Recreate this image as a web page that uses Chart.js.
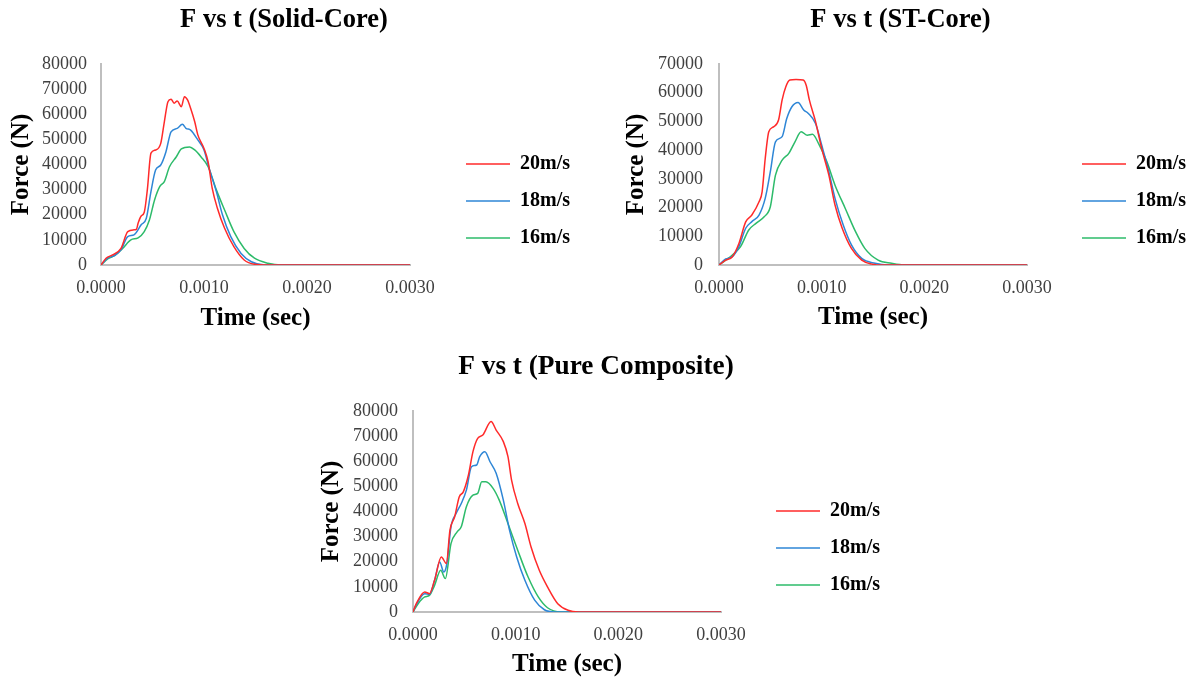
<!DOCTYPE html>
<html>
<head>
<meta charset="utf-8">
<script src="https://cdn.jsdelivr.net/npm/chart.js@4.4.1/dist/chart.umd.min.js"></script>
<style>
html, body { margin: 0; padding: 0; background: #fff; width: 1195px; height: 682px; overflow: hidden; }
canvas { position: absolute; }
</style>
</head>
<body>
<canvas id="solid" width="592" height="402" style="left:-12px; top:0px"></canvas>
<canvas id="stcore" width="591" height="402" style="left:605px; top:0px"></canvas>
<canvas id="pure" width="588" height="406" style="left:302px; top:345px"></canvas>
<script>
// velocidades (leyenda)
const velocidades = ["20m/s", "18m/s", "16m/s"];
const colores = ["#ff2a2a", "#2e86d6", "#2dbb6a"];

// F vs t (Solid-Core): tiempo en s, fuerza en N
const solidTiempo20 = [0, 0.000049, 0.000113, 0.000194, 0.00026, 0.00032, 0.000345, 0.00036, 0.00039, 0.00042, 0.00045, 0.000485, 0.00053, 0.00058, 0.000615, 0.00065, 0.00068, 0.00071, 0.00074, 0.00078, 0.00081, 0.00084, 0.00087, 0.00091, 0.00094, 0.001, 0.00104, 0.00108, 0.00113, 0.0012, 0.00129, 0.00139, 0.00149, 0.00162, 0.003];
const solidFuerza20 = [0, 2700, 4000, 6600, 13300, 14000, 14300, 16600, 19500, 21000, 30000, 44500, 45800, 48400, 57000, 65000, 66000, 64400, 65300, 63000, 67000, 65700, 62400, 57000, 51800, 46400, 41000, 30500, 22600, 14600, 7300, 2000, 300, 0, 0];
const solidTiempo18 = [0, 0.000065, 0.00013, 0.000194, 0.00026, 0.00032, 0.00039, 0.00044, 0.000485, 0.00053, 0.00058, 0.00063, 0.00068, 0.00074, 0.00079, 0.000825, 0.00087, 0.00094, 0.001, 0.00105, 0.00112, 0.00118, 0.00126, 0.00136, 0.00146, 0.00159, 0.003];
const solidFuerza18 = [0, 2700, 3700, 6000, 11300, 12000, 16000, 18600, 29200, 37800, 39800, 45000, 53000, 54400, 56000, 54400, 53700, 49800, 45800, 38500, 29200, 19900, 11300, 4600, 1300, 0, 0];
const solidTiempo16 = [0, 0.000065, 0.00013, 0.00021, 0.00029, 0.00036, 0.00042, 0.00047, 0.00052, 0.00057, 0.000615, 0.000665, 0.00073, 0.00078, 0.00086, 0.00091, 0.00097, 0.00104, 0.00112, 0.0012, 0.00129, 0.00139, 0.00149, 0.00162, 0.00175, 0.003];
const solidFuerza16 = [0, 2400, 3700, 6600, 10000, 10800, 13300, 17900, 25900, 31200, 33200, 39100, 43000, 46200, 47000, 45800, 43100, 39100, 29900, 21900, 13300, 6600, 2700, 700, 0, 0];

// F vs t (ST-Core)
const stTiempo20 = [0, 0.000065, 0.00013, 0.000194, 0.00026, 0.00032, 0.00039, 0.00042, 0.00045, 0.000485, 0.00053, 0.00058, 0.000615, 0.00065, 0.00069, 0.00075, 0.00082, 0.00085, 0.00088, 0.00094, 0.001, 0.00107, 0.00113, 0.0012, 0.00129, 0.00139, 0.00149, 0.0016, 0.003];
const stFuerza20 = [0, 1700, 2900, 7500, 15000, 17400, 22000, 25500, 37000, 46400, 48100, 50500, 57500, 62000, 64400, 64600, 64400, 62500, 57500, 50000, 40600, 31300, 20900, 12800, 5800, 1700, 300, 0, 0];
const stTiempo18 = [0, 0.000065, 0.00013, 0.000194, 0.00026, 0.00032, 0.00039, 0.00045, 0.0005, 0.00055, 0.000615, 0.00066, 0.00071, 0.00077, 0.000825, 0.00087, 0.00094, 0.001, 0.00107, 0.00113, 0.00121, 0.00129, 0.00139, 0.00152, 0.00165, 0.003];
const stFuerza18 = [0, 2100, 2900, 6400, 12800, 15100, 17400, 23200, 32500, 42900, 44700, 51000, 55100, 56600, 54000, 52800, 49300, 41800, 32500, 23200, 13900, 7000, 2300, 600, 0, 0];
const stTiempo16 = [0, 0.000065, 0.00013, 0.00021, 0.00029, 0.00036, 0.00044, 0.0005, 0.00055, 0.000615, 0.00068, 0.00074, 0.0008, 0.00086, 0.00091, 0.00097, 0.00105, 0.00113, 0.00123, 0.00133, 0.00142, 0.00155, 0.00168, 0.00181, 0.003];
const stFuerza16 = [0, 1700, 3500, 6400, 12200, 14500, 16800, 20300, 31300, 36500, 38900, 42900, 46400, 45200, 45500, 42300, 36000, 27800, 19700, 11600, 5800, 1700, 600, 0, 0];

// F vs t (Pure Composite)
const pureTiempo20 = [0, 0.000032, 0.000114, 0.00016, 0.00021, 0.000276, 0.000325, 0.00036, 0.000406, 0.00045, 0.00049, 0.00054, 0.000584, 0.00063, 0.00068, 0.00076, 0.00081, 0.00088, 0.000925, 0.00096, 0.00102, 0.00109, 0.00115, 0.00123, 0.00131, 0.00141, 0.00151, 0.00161, 0.003];
const pureFuerza20 = [0, 3300, 8000, 7300, 12600, 21900, 19300, 32600, 37900, 45800, 47800, 54500, 63800, 69100, 70400, 75800, 72400, 67800, 61800, 52500, 43200, 35200, 25900, 16600, 10000, 3300, 700, 0, 0];
const pureTiempo18 = [0, 0.000032, 0.000114, 0.00016, 0.00021, 0.00026, 0.0003, 0.00033, 0.00037, 0.00042, 0.00047, 0.00052, 0.00057, 0.00062, 0.00065, 0.0007, 0.00075, 0.00081, 0.00088, 0.00094, 0.00101, 0.00109, 0.001185, 0.00128, 0.00138, 0.003];
const pureFuerza18 = [0, 2900, 7300, 7000, 12600, 19900, 15900, 19300, 33900, 39200, 43200, 48500, 57800, 58500, 61800, 63800, 59800, 55200, 44500, 32600, 21900, 12600, 4700, 900, 0, 0];
const pureTiempo16 = [0, 0.00005, 0.000114, 0.00016, 0.00021, 0.00027, 0.000315, 0.00037, 0.00043, 0.00047, 0.00052, 0.000584, 0.00063, 0.00067, 0.00071, 0.00078, 0.00084, 0.000925, 0.00102, 0.00112, 0.00122, 0.00131, 0.00144, 0.003];
const pureFuerza16 = [0, 3300, 6000, 6600, 10600, 16600, 13300, 27200, 31900, 33900, 41900, 46500, 47200, 51800, 51800, 49200, 44500, 35200, 24600, 14000, 6000, 1700, 0, 0];

const fuente = "'Liberation Serif', 'Times New Roman', serif";

function puntos(tiempos, fuerzas) {
    return tiempos.map((t, i) => ({ x: t, y: fuerzas[i] }));
}

function crearGrafico(id, titulo, yMax, series, caja) {
    const datasets = series.map((s, i) => ({
        label: velocidades[i],
        data: puntos(s[0], s[1]),
        borderColor: colores[i],
        backgroundColor: colores[i],
        borderWidth: 1.5,
        pointRadius: 0,
        cubicInterpolationMode: "monotone",
        yAxisID: "y"
    }));

    return new Chart(document.getElementById(id), {
        type: "line",
        data: { datasets },
        options: {
            responsive: false,
            animation: false,
            devicePixelRatio: 1,
            layout: { padding: 0 },
            plugins: {
                tooltip: { enabled: false },
                title: {
                    display: true,
                    text: titulo,
                    color: "#000",
                    font: { family: fuente, size: caja.tituloTam, weight: "bold" },
                    padding: { top: caja.tituloArriba, bottom: caja.tituloAbajo }
                },
                legend: {
                    position: "right",
                    maxWidth: 200,
                    labels: {
                        color: "#000",
                        font: { family: fuente, size: 20, weight: "bold" },
                        usePointStyle: true,
                        pointStyle: "line",
                        pointStyleWidth: 44,
                        padding: 17
                    }
                }
            },
            scales: {
                x: {
                    type: "linear",
                    min: 0,
                    max: 0.003,
                    grid: { display: false, drawTicks: false },
                    border: { display: true, color: "#bfbfbf", width: 2 },
                    ticks: {
                        stepSize: 0.001,
                        autoSkip: false,
                        maxRotation: 0,
                        padding: caja.xPadTick,
                        color: "#404040",
                        font: { family: fuente, size: 18 },
                        callback: v => Number(v).toFixed(4)
                    },
                    title: {
                        display: true,
                        text: "Time (sec)",
                        color: "#000",
                        font: { family: fuente, size: 25, weight: "bold" },
                        padding: { top: 0, bottom: caja.xPadTitulo }
                    },
                    afterFit: s => { s.height = caja.xAlto; }
                },
                y: {
                    type: "linear",
                    min: 0,
                    max: yMax,
                    grid: { display: false, drawTicks: false },
                    border: { display: true, color: "#bfbfbf", width: 2 },
                    ticks: {
                        stepSize: 10000,
                        padding: caja.yPadTick,
                        color: "#404040",
                        font: { family: fuente, size: 18 },
                        callback: v => String(v)
                    },
                    title: {
                        display: true,
                        text: "Force (N)",
                        color: "#000",
                        font: { family: fuente, size: 25, weight: "bold" },
                        padding: { top: caja.yPadTitulo, bottom: 0 }
                    },
                    afterFit: s => { s.width = caja.yAncho; }
                },
                hueco: {
                    type: "linear",
                    axis: "y",
                    position: "right",
                    grid: { display: false, drawTicks: false },
                    border: { display: false },
                    ticks: { display: false },
                    afterFit: s => { s.width = caja.hueco; }
                }
            }
        }
    });
}

crearGrafico("solid", "F vs t (Solid-Core)", 80000, [
    [solidTiempo20, solidFuerza20],
    [solidTiempo18, solidFuerza18],
    [solidTiempo16, solidFuerza16]
], { tituloTam: 26.5, tituloArriba: 4, tituloAbajo: 28.2, xPadTick: 12, xPadTitulo: 68, xAlto: 137, yPadTick: 14, yPadTitulo: 19, yAncho: 113, hueco: 39 });

crearGrafico("stcore", "F vs t (ST-Core)", 70000, [
    [stTiempo20, stFuerza20],
    [stTiempo18, stFuerza18],
    [stTiempo16, stFuerza16]
], { tituloTam: 26.5, tituloArriba: 4, tituloAbajo: 28.2, xPadTick: 12, xPadTitulo: 69, xAlto: 137, yPadTick: 16, yPadTitulo: 17, yAncho: 114, hueco: 38 });

crearGrafico("pure", "F vs t (Pure Composite)", 80000, [
    [pureTiempo20, pureFuerza20],
    [pureTiempo18, pureFuerza18],
    [pureTiempo16, pureFuerza16]
], { tituloTam: 27.3, tituloArriba: 5.5, tituloAbajo: 27.7, xPadTick: 12, xPadTitulo: 71, xAlto: 139, yPadTick: 15, yPadTitulo: 15, yAncho: 111, hueco: 38 });
</script>
</body>
</html>
